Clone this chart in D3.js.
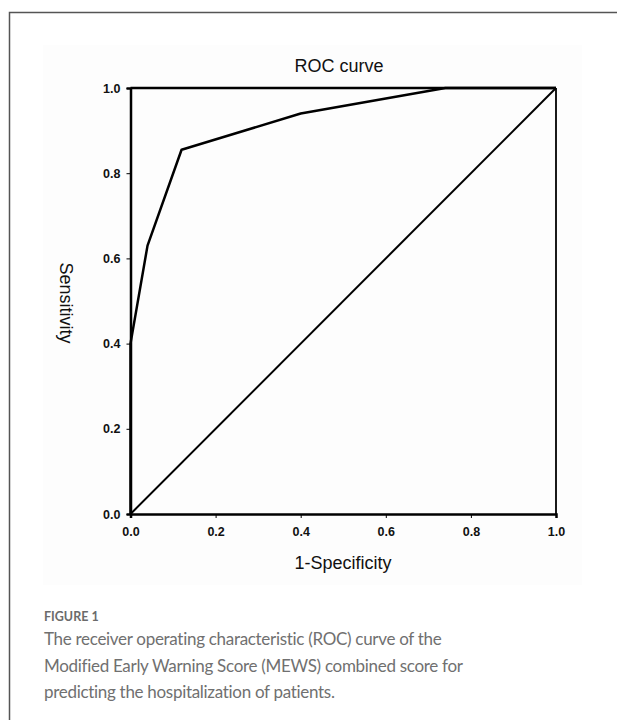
<!DOCTYPE html>
<html>
<head>
<meta charset="utf-8">
<script src="https://cdn.jsdelivr.net/npm/d3@7"></script>
<style>
  body { margin: 0; background: #fff; }
  svg { display: block; }
</style>
</head>
<body>
<script>
// ROC curve points (1-specificity, sensitivity)
let fpr = [0, 0, 0.04, 0.12, 0.4, 0.74, 1];
let tpr = [0, 0.4, 0.63, 0.855, 0.94, 1, 1];
let refX = [0, 1];
let refY = [0, 1];
let ticks = [0, 0.2, 0.4, 0.6, 0.8, 1.0];

let w = 617, h = 720;
let margin = {top: 88, left: 130.5, right: 61, bottom: 206};
let width = w - margin.left - margin.right, height = h - margin.top - margin.bottom;

let svg = d3.select("body").append("svg").attr("width", w).attr("height", h);

// outer frame (only left and top visible)
svg.append("path")
  .attr("d", "M9.5," + h + "V12.5H" + w)
  .attr("fill", "none")
  .attr("stroke", "#555")
  .attr("stroke-width", 1.5);

// faint image background
svg.append("rect")
  .attr("x", 43).attr("y", 45)
  .attr("width", 539).attr("height", 540)
  .attr("fill", "#fdfdfd");

let xScale = d3.scaleLinear().domain([0, 1]).range([0, width]);
let yScale = d3.scaleLinear().domain([0, 1]).range([height, 0]);

let g = svg.append("g")
  .attr("transform", "translate(" + margin.left + "," + margin.top + ")");

// axes
let xAxis = g.append("g")
  .attr("transform", "translate(0," + height + ")")
  .call(d3.axisBottom(xScale).tickValues(ticks).tickFormat(d3.format(".1f")).tickSizeOuter(0).tickSize(4));
let yAxis = g.append("g")
  .call(d3.axisLeft(yScale).tickValues(ticks).tickFormat(d3.format(".1f")).tickSizeOuter(0).tickSize(4));

[xAxis, yAxis].forEach(function (a) {
  a.attr("font-size", null);
  a.select(".domain").attr("stroke", "#000").attr("stroke-width", 2.5);
  a.selectAll(".tick line").attr("stroke", "#000").attr("stroke-width", 1);
  a.selectAll(".tick text")
    .attr("fill", "#111")
    .attr("font-family", "Liberation Sans, Arial, sans-serif")
    .attr("font-weight", "bold")
    .style("font-size", "12.5px");
});
xAxis.selectAll(".tick text").attr("dy", "1.2em");
yAxis.selectAll(".tick text").attr("dx", "-0.25em");

// top and right frame of plot
g.append("line")
  .attr("x1", xScale(0)).attr("x2", xScale(1))
  .attr("y1", yScale(1)).attr("y2", yScale(1))
  .attr("stroke", "#000").attr("stroke-width", 2.5);
g.append("line")
  .attr("x1", xScale(1)).attr("x2", xScale(1))
  .attr("y1", yScale(1)).attr("y2", yScale(0))
  .attr("stroke", "#000").attr("stroke-width", 1.8);

let line = d3.line()
  .x(function (d) { return xScale(d[0]); })
  .y(function (d) { return yScale(d[1]); });

// reference diagonal
g.append("path")
  .datum(d3.zip(refX, refY))
  .attr("d", line)
  .attr("fill", "none")
  .attr("stroke", "#000")
  .attr("stroke-width", 2);

// ROC curve
g.append("path")
  .datum(d3.zip(fpr, tpr))
  .attr("d", line)
  .attr("fill", "none")
  .attr("stroke", "#000")
  .attr("stroke-width", 2.5)
  .attr("stroke-linejoin", "round");

// titles
svg.append("text")
  .text("ROC curve")
  .attr("x", 339).attr("y", 72)
  .attr("text-anchor", "middle")
  .attr("font-family", "Liberation Sans, Arial, sans-serif")
  .attr("font-size", "18px")
  .attr("fill", "#111");

svg.append("text")
  .text("1-Specificity")
  .attr("x", 343).attr("y", 569)
  .attr("text-anchor", "middle")
  .attr("font-family", "Liberation Sans, Arial, sans-serif")
  .attr("font-size", "18px")
  .attr("fill", "#111");

svg.append("text")
  .text("Sensitivity")
  .attr("transform", "translate(60,303) rotate(90)")
  .attr("text-anchor", "middle")
  .attr("font-family", "Liberation Sans, Arial, sans-serif")
  .attr("font-size", "18px")
  .attr("fill", "#111");

// caption
svg.append("text")
  .text("FIGURE 1")
  .attr("x", 44).attr("y", 621)
  .attr("font-family", "Lato, sans-serif")
  .attr("font-weight", "bold")
  .attr("font-size", "12.5px")
  .attr("fill", "#6b6b6b");

let caption = [
  "The receiver operating characteristic (ROC) curve of the",
  "Modified Early Warning Score (MEWS) combined score for",
  "predicting the hospitalization of patients."
];
svg.selectAll(".cap")
  .data(caption)
  .enter()
  .append("text")
  .attr("class", "cap")
  .text(function (d) { return d; })
  .attr("x", 44)
  .attr("y", function (d, i) { return 645 + i * 26.5; })
  .attr("font-family", "Lato, sans-serif")
  .attr("font-size", "17px")
  .attr("letter-spacing", "-0.3px")
  .attr("fill", "#707070");
</script>
</body>
</html>
